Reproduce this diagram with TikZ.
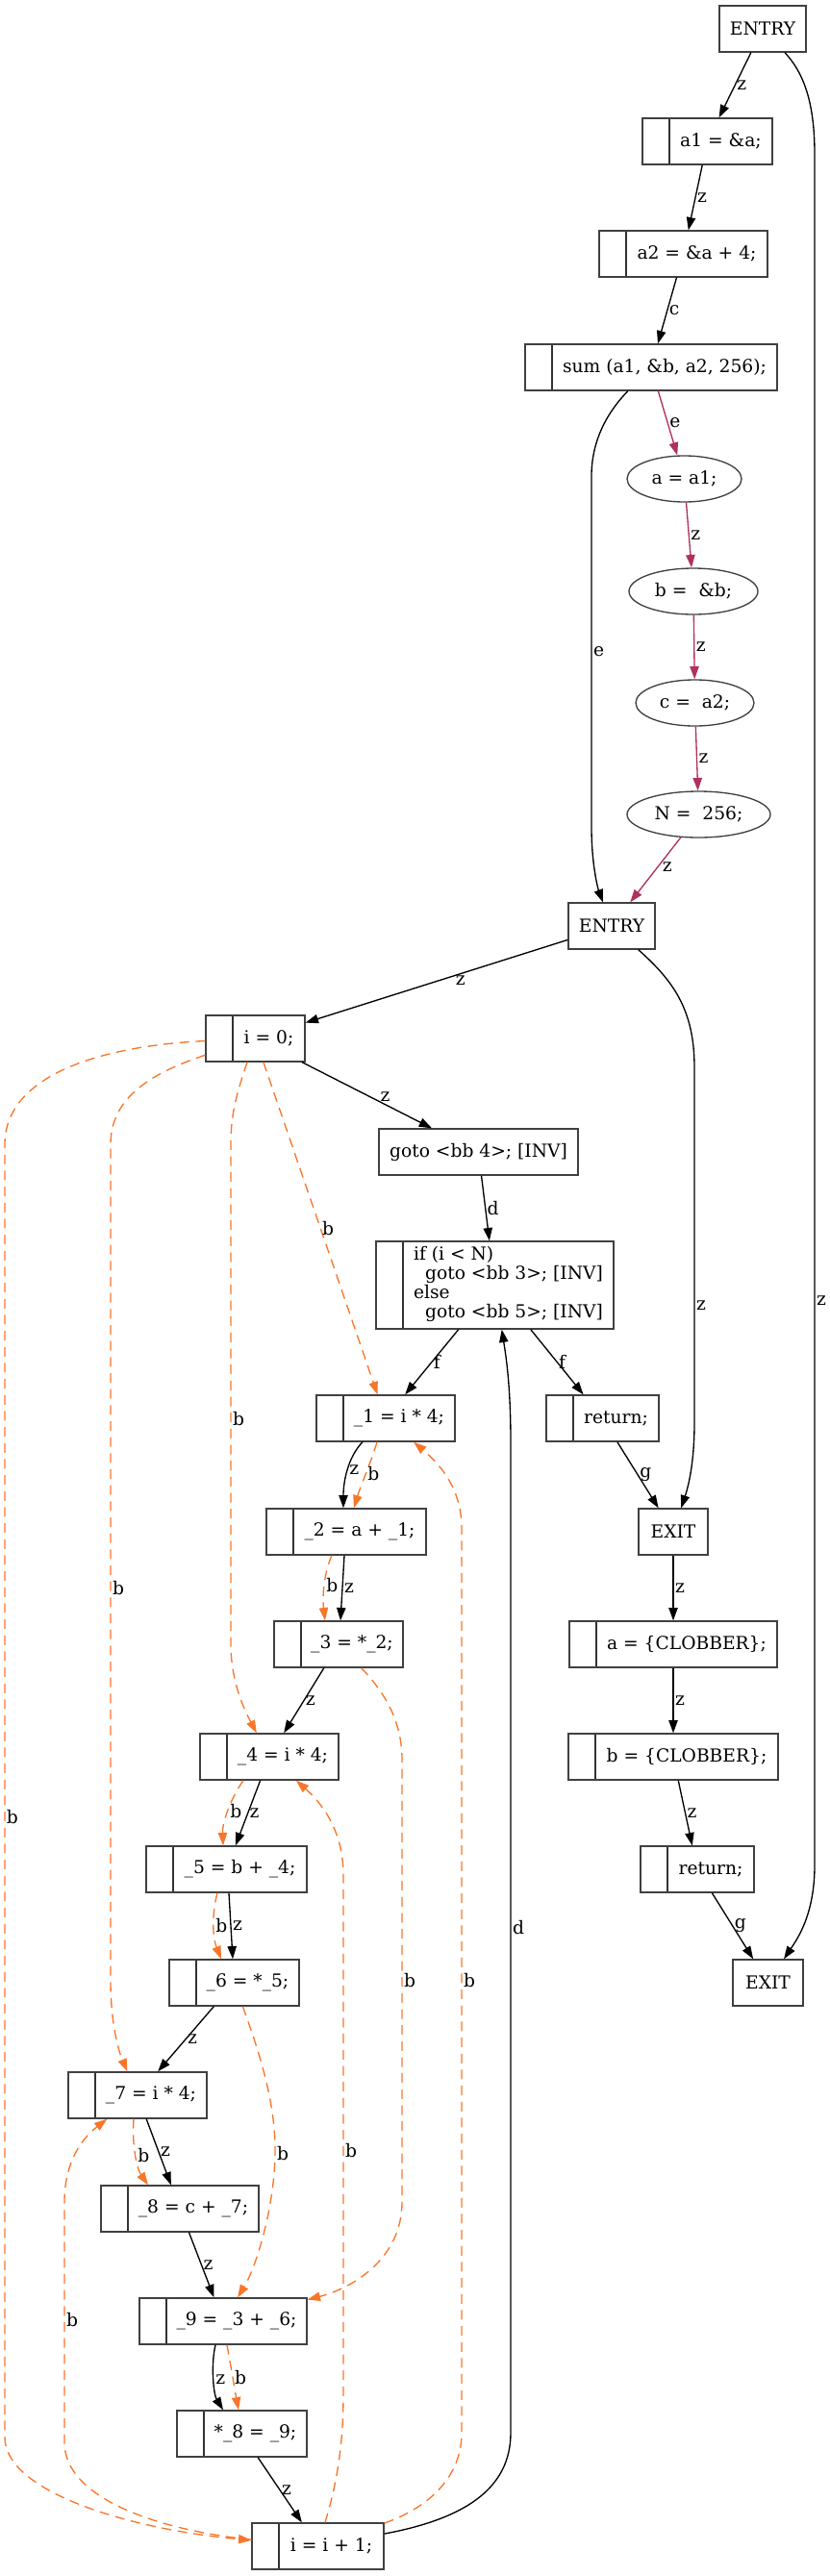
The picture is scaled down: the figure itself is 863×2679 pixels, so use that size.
\documentclass[tikz,border=0pt]{standalone}
\usepackage{fontspec}
\setmainfont{DejaVu Serif}
\usepackage{tikz}
\usetikzlibrary{shapes.geometric,arrows.meta}
\definecolor{borange}{RGB}{248,118,42}
\definecolor{bcrim}{RGB}{176,48,96}
\newcommand{\gvfont}{\fontsize{14}{15}\selectfont}
\tikzstyle{blk}=[draw=black!75, line width=1pt, minimum height=36pt, inner sep=0pt, font=\gvfont]
\tikzstyle{rec}=[blk, execute at begin node=\hspace*{21pt},
  path picture={\draw[black!80, line width=1pt] ([xshift=21pt]path picture bounding box.north west) -- ([xshift=21pt]path picture bounding box.south west);}]
\tikzstyle{oval}=[blk, ellipse]
\tikzstyle{flow}=[line width=1pt, -{Triangle[length=10pt,width=7pt]}]
\tikzstyle{bflow}=[flow, borange, dash pattern=on 7.5pt off 5pt]
\tikzstyle{cflow}=[flow, bcrim]
\tikzstyle{lbl}=[font=\gvfont, text=black, inner sep=1pt]
\tikzset{wd/.style={minimum width=#1*0.75pt}}

\begin{document}
\begin{tikzpicture}[x=0.75pt, y=-0.75pt]
    \useasboundingbox (0,0) rectangle (863,2679);
    % first function
    \node[blk, wd=90]   (entry) at (793,30)    {ENTRY};
    \node[rec, wd=135]  (a1)    at (735.5,147) {a1 = \&a;};
    \node[rec, wd=175]  (a2)    at (710.5,264) {a2 = \&a + 4;};
    \node[rec, wd=262]  (call)  at (677,382)   {sum (a1, \&b, a2, 256);};
    % inlined arguments
    \node[oval, wd=119] (ea)    at (711.5,498) {a = a1;};
    \node[oval, wd=134] (eb)    at (721,615)   {b = \ \&b;};
    \node[oval, wd=123] (ec)    at (722.5,731) {c = \ a2;};
    \node[oval, wd=149] (en)    at (726.5,847) {N = \ 256;};
    % callee
    \node[blk, wd=90]   (entryb) at (636,963)   {ENTRY};
    \node[rec, wd=103]  (i0)     at (265.5,1080) {i = 0;};
    \node[blk, wd=207]  (gotob)  at (497.5,1198) {goto <bb 4>; [INV]};
    \node[rec, wd=247, minimum height=68.25pt] (cond) at (514.5,1336.5)
      {\begin{tabular}{@{}l@{}}if (i < N)\\\hspace*{9pt}goto <bb 3>; [INV]\\else\\\hspace*{9pt}goto <bb 5>; [INV]\end{tabular}};
    \node[rec, wd=144]  (t1)    at (401,1475)   {\_1 = i * 4;};
    \node[rec, wd=117]  (reta)  at (626.5,1475) {return;};
    \node[rec, wd=166]  (t2)    at (360,1593)   {\_2 = a + \_1;};
    \node[blk, wd=72]   (exita) at (700,1593)   {EXIT};
    \node[rec, wd=134]  (t3)    at (352,1710)   {\_3 = *\_2;};
    \node[rec, wd=216]  (clobA) at (700,1710)   {a = \{CLOBBER\};};
    \node[rec, wd=144]  (t4)    at (280,1827)   {\_4 = i * 4;};
    \node[rec, wd=218]  (clobB) at (700,1827)   {b = \{CLOBBER\};};
    \node[rec, wd=167]  (t5)    at (235.5,1944) {\_5 = b + \_4;};
    \node[rec, wd=118]  (retb)  at (725,1944)   {return;};
    \node[rec, wd=135]  (t6)    at (243.5,2062) {\_6 = *\_5;};
    \node[blk, wd=73]   (exitb) at (798.5,2062) {EXIT};
    \node[rec, wd=144]  (t7)    at (143,2179)   {\_7 = i * 4;};
    \node[rec, wd=164]  (t8)    at (187,2297)   {\_8 = c + \_7;};
    \node[rec, wd=174]  (t9)    at (232,2414)   {\_9 = \_3 + \_6;};
    \node[rec, wd=135]  (st8)   at (251.5,2531) {*\_8 = \_9;};
    \node[rec, wd=137]  (inc)   at (330.5,2648) {i = i + 1;};

    % control and data flow
    \draw[flow] (entry) -- node[lbl,right]{z} (a1);
    \draw[flow] (entry) .. controls (835,75) and (847,105) .. (847,160) -- node[lbl,right,pos=.67]{z} (847,1940) .. controls (847,1990) and (830,2015) .. (exitb);
    \draw[flow] (a1) -- node[lbl,right]{z} (a2);
    \draw[flow] (a2) -- node[lbl,right]{c} (call);
    \draw[flow] (call) .. controls (630,430) and (615,460) .. (615,495) -- node[lbl,right]{e} (615,860) .. controls (615,900) and (622,925) .. (entryb);
    \draw[cflow] (call) -- node[lbl,right]{e} (ea);
    \draw[cflow] (ea) -- node[lbl,right]{z} (eb);
    \draw[cflow] (eb) -- node[lbl,right]{z} (ec);
    \draw[cflow] (ec) -- node[lbl,right]{z} (en);
    \draw[cflow] (en) -- node[lbl,right=2pt,pos=.45]{z} (entryb);
    \draw[flow] (entryb) -- node[lbl,below right,pos=.43,inner sep=0pt]{z} (i0);
    \draw[flow] (entryb) .. controls (700,1020) and (722,1050) .. (722,1110) -- node[lbl,right,pos=.67]{z} (722,1480) .. controls (722,1520) and (716,1545) .. (exita);
    \draw[flow] (i0) -- node[lbl,above right,pos=.6,inner sep=0pt]{z} (gotob);
    \draw[flow] (gotob) -- node[lbl,right]{d} (cond);
    \draw[flow] (cond) -- node[lbl,right]{f} (t1);
    \draw[flow] (cond) -- node[lbl,right]{f} (reta);
    \draw[flow] (reta) -- node[lbl,right]{g} (exita);
    \draw[flow] ([xshift=-18pt]t1.south) .. controls (362,1515) and (357,1540) .. node[lbl,right]{z} ([xshift=-2.25pt]t2.north);
    \draw[flow] ([xshift=-1.5pt]t2.south) -- node[lbl,right]{z} ([xshift=1.5pt]t3.north);
    \draw[flow] (t3) -- node[lbl,right]{z} (t4);
    \draw[flow] (t4) -- node[lbl,right]{z} (t5);
    \draw[flow] ([xshift=1.875pt]t5.south) -- node[lbl,right]{z} ([xshift=-1.125pt]t6.north);
    \draw[flow] (t6) -- node[lbl,right]{z} (t7);
    \draw[flow] (t7) -- node[lbl,right]{z} (t8);
    \draw[flow] (t8) -- node[lbl,right]{z} (t9);
    \draw[flow] ([xshift=-6pt]t9.south) .. controls (219,2460) and (222,2490) .. node[lbl,right]{z} ([xshift=-14.6pt]st8.north);
    \draw[flow] (st8) -- node[lbl,right]{z} (inc);
    \draw[flow] (inc) .. controls (480,2620) and (531,2590) .. (531,2530) -- node[lbl,right,pos=.51]{d} (531,1500) .. controls (531,1440) and (526,1410) .. (cond);
    \draw[flow] (exita) -- node[lbl,right]{z} (clobA);
    \draw[flow] (clobA) -- node[lbl,right]{z} (clobB);
    \draw[flow] (clobB) -- node[lbl,right]{z} (retb);
    \draw[flow] (retb) -- node[lbl,right]{g} (exitb);

    % dependences
    \draw[bflow] (i0) -- node[lbl,right]{b} (t1);
    \draw[bflow] (i0) .. controls (245,1140) and (240,1160) .. (240,1190) -- node[lbl,right,pos=.55]{b} (240,1710) .. controls (240,1750) and (255,1780) .. (t4);
    \draw[bflow] (i0) .. controls (160,1115) and (115,1140) .. (115,1190) -- node[lbl,right,pos=.53]{b} (115,2060) .. controls (115,2100) and (122,2130) .. (t7);
    \draw[bflow] (i0) .. controls (100,1088) and (5,1120) .. (5,1190) -- node[lbl,right,pos=.52]{b} (5,2535) .. controls (5,2590) and (130,2630) .. (inc);
    \draw[bflow] ([xshift=-6.75pt]t1.south) .. controls (386,1520) and (375,1545) .. node[lbl,right]{b} ([xshift=6pt]t2.north);
    \draw[bflow] ([xshift=-11.25pt]t2.south) .. controls (337,1635) and (335,1660) .. node[lbl,right]{b} ([xshift=-10.5pt]t3.north);
    \draw[bflow] (t3) .. controls (400,1760) and (418,1790) .. (418,1830) -- node[lbl,right]{b} (418,2290) .. controls (418,2350) and (365,2380) .. (t9);
    \draw[bflow] ([xshift=-20.25pt]t4.south) .. controls (240,1870) and (231,1895) .. node[lbl,right]{b} ([xshift=-2.6pt]t5.north);
    \draw[bflow] ([xshift=-7.125pt]t5.south) .. controls (220,1990) and (221,2015) .. node[lbl,right]{b} ([xshift=-10.125pt]t6.north);
    \draw[bflow] (t6) .. controls (268,2130) and (287,2185) .. (286,2240) node[lbl,right]{b} .. controls (285,2300) and (265,2360) .. (t9);
    \draw[bflow] ([xshift=-3pt]t7.south) .. controls (137,2230) and (142,2255) .. node[lbl,right]{b} ([xshift=-24.75pt]t8.north);
    \draw[bflow] ([xshift=3pt]t9.south) .. controls (240,2460) and (244,2485) .. node[lbl,right]{b} ([xshift=-2.6pt]st8.north);
    \draw[bflow] (inc) .. controls (440,2610) and (480,2580) .. (480,2530) -- node[lbl,right]{b} (480,1590) .. controls (480,1550) and (460,1525) .. (t1);
    \draw[bflow] (inc) .. controls (348,2590) and (357,2550) .. (357,2490) -- node[lbl,right,pos=.47]{b} (357,1950) .. controls (357,1910) and (340,1880) .. (t4);
    \draw[bflow] (inc) .. controls (170,2632) and (67,2600) .. (67,2540) -- node[lbl,right,pos=.51]{b} (67,2290) .. controls (67,2255) and (80,2228) .. (t7);
\end{tikzpicture}
\end{document}
